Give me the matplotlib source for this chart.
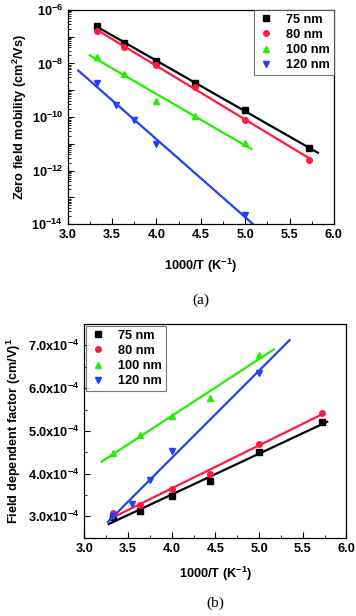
import numpy as np
import matplotlib
matplotlib.use('Agg')
import matplotlib.pyplot as plt
from matplotlib.ticker import FuncFormatter, LogLocator, MultipleLocator, NullFormatter

plt.rcParams['font.family'] = 'Liberation Sans'
plt.rcParams['font.weight'] = 'bold'
plt.rcParams['mathtext.fontset'] = 'custom'
plt.rcParams['mathtext.rm'] = 'Liberation Sans:bold'
plt.rcParams['mathtext.bf'] = 'Liberation Sans:bold'
plt.rcParams['mathtext.default'] = 'rm'

# data
labels = ['75 nm', '80 nm', '100 nm', '120 nm']
colors = ['black', '#ff1a3c', '#22ee00', '#2040ff']
markers = ['s', 'o', '^', 'v']

# (a) zero field mobility, cm^2/Vs
x_a = [
    [3.33, 3.64, 4.0, 4.44, 5.0, 5.72],
    [3.33, 3.64, 4.0, 4.44, 5.0, 5.72],
    [3.33, 3.64, 4.0, 4.44, 5.0],
    [3.33, 3.55, 3.75, 4.0, 5.0],
]
mu_a = [
    [2.4e-7, 6.0e-8, 1.2e-8, 1.9e-9, 1.8e-10, 6.8e-12],
    [1.6e-7, 4.0e-8, 8.8e-9, 1.35e-9, 8.0e-11, 2.6e-12],
    [1.8e-8, 4.0e-9, 4.0e-10, 1.1e-10, 1.04e-11],
    [1.9e-9, 2.7e-10, 8.0e-11, 9.8e-12, 2.2e-14],
]
fit_range_a = [(3.33, 5.82), (3.33, 5.73), (3.25, 5.07), (3.12, 5.10)]

# (b) field dependent factor, 1e-4 (cm/V)^1/2
x_b = [
    [3.33, 3.64, 4.0, 4.44, 5.0, 5.72],
    [3.33, 3.64, 4.0, 4.44, 5.0, 5.72],
    [3.33, 3.64, 4.0, 4.44, 5.0],
    [3.33, 3.55, 3.75, 4.0, 5.0],
]
beta_b = [
    [2.98, 3.13, 3.47, 3.82, 4.50, 5.20],
    [3.07, 3.26, 3.63, 3.99, 4.70, 5.42],
    [4.49, 4.90, 5.34, 5.78, 6.78],
    [3.02, 3.30, 3.86, 4.53, 6.36],
]
fit_range_b = [(3.28, 5.78), (3.30, 5.72), (3.20, 5.17), (3.27, 5.35)]

fig = plt.figure(figsize=(3.56, 6.16), dpi=100)
ax1 = fig.add_axes([0.190, 0.636, 0.748, 0.348])
ax2 = fig.add_axes([0.237, 0.127, 0.736, 0.347])

fs = 9.2

# panel (a)
for i in range(4):
    x = np.array(x_a[i])
    y = np.array(mu_a[i])
    p = np.polyfit(x, np.log10(y), 1)
    xf = np.linspace(fit_range_a[i][0], fit_range_a[i][1], 50)
    ax1.plot(xf, 10 ** np.polyval(p, xf), color=colors[i], lw=1.6)
    ax1.plot(x, y, ls='none', marker=markers[i], color=colors[i], ms=4, label=labels[i])

ax1.set_yscale('log')
ax1.set_xlim(3.0, 6.0)
ax1.set_ylim(1e-14, 1e-6)
ax1.xaxis.set_major_locator(MultipleLocator(0.5))
ax1.xaxis.set_minor_locator(MultipleLocator(0.25))
ax1.yaxis.set_major_locator(LogLocator(base=10, numticks=20))
ax1.yaxis.set_minor_locator(LogLocator(base=10, subs=np.arange(2, 10), numticks=20))
ax1.yaxis.set_minor_formatter(NullFormatter())


def log_fmt(v, pos):
    e = int(round(np.log10(v)))
    if e % 2:
        return ''
    return r'$10^{%d}$' % e


ax1.yaxis.set_major_formatter(FuncFormatter(log_fmt))
ax1.set_xlabel(r'1000/T (K$^{-1}$)', fontsize=fs, fontweight='bold', labelpad=11)
ax1.set_ylabel(r'Zero field mobility (cm$^{2}$/Vs)', fontsize=fs, fontweight='bold', labelpad=2)
ax1.legend(loc='upper right', fontsize=fs, borderaxespad=0, fancybox=False,
           edgecolor='#555555', handletextpad=1.0, handlelength=1.2,
           labelspacing=0.25, borderpad=0.3).get_frame().set_linewidth(0.8)

# panel (b)
for i in range(4):
    x = np.array(x_b[i])
    y = np.array(beta_b[i]) * 1e-4
    p = np.polyfit(x, y, 1)
    xf = np.linspace(fit_range_b[i][0], fit_range_b[i][1], 50)
    ax2.plot(xf, np.polyval(p, xf), color=colors[i], lw=1.6)
    ax2.plot(x, y, ls='none', marker=markers[i], color=colors[i], ms=4, label=labels[i])

ax2.set_xlim(3.0, 6.0)
ax2.set_ylim(2.5e-4, 7.5e-4)
ax2.xaxis.set_major_locator(MultipleLocator(0.5))
ax2.xaxis.set_minor_locator(MultipleLocator(0.25))
ax2.yaxis.set_major_locator(MultipleLocator(1e-4))
ax2.yaxis.set_minor_locator(MultipleLocator(0.5e-4))
ax2.yaxis.set_major_formatter(FuncFormatter(lambda v, pos: r'%.1fx10$^{-4}$' % (v * 1e4)))
ax2.set_xlabel(r'1000/T (K$^{-1}$)', fontsize=fs, fontweight='bold', labelpad=7)
ax2.set_ylabel(r'Field dependent factor (cm/V)$^{1}$', fontsize=fs, fontweight='bold', labelpad=4)
ax2.legend(loc='upper left', fontsize=fs, borderaxespad=0.15, fancybox=False,
           edgecolor='#555555', handletextpad=1.0, handlelength=1.2,
           labelspacing=0.25, borderpad=0.3).get_frame().set_linewidth(0.8)

for ax in (ax1, ax2):
    ax.tick_params(which='both', direction='in', top=False, right=False, labelsize=fs)
    ax.tick_params(which='major', length=4, width=0.8)
    ax.tick_params(which='minor', length=2, width=0.6)
    for s in ax.spines.values():
        s.set_linewidth(0.9)

fig.text(0.5 * (0.190 + 0.938), 1 - 300 / 616, '(a)', ha='center', va='center',
         fontsize=11, fontweight='normal', family='Liberation Serif')
fig.text(0.5 * (0.237 + 0.973), 1 - 603 / 616, '(b)', ha='center', va='center',
         fontsize=11, fontweight='normal', family='Liberation Serif')

fig.savefig('out.png', dpi=100)
